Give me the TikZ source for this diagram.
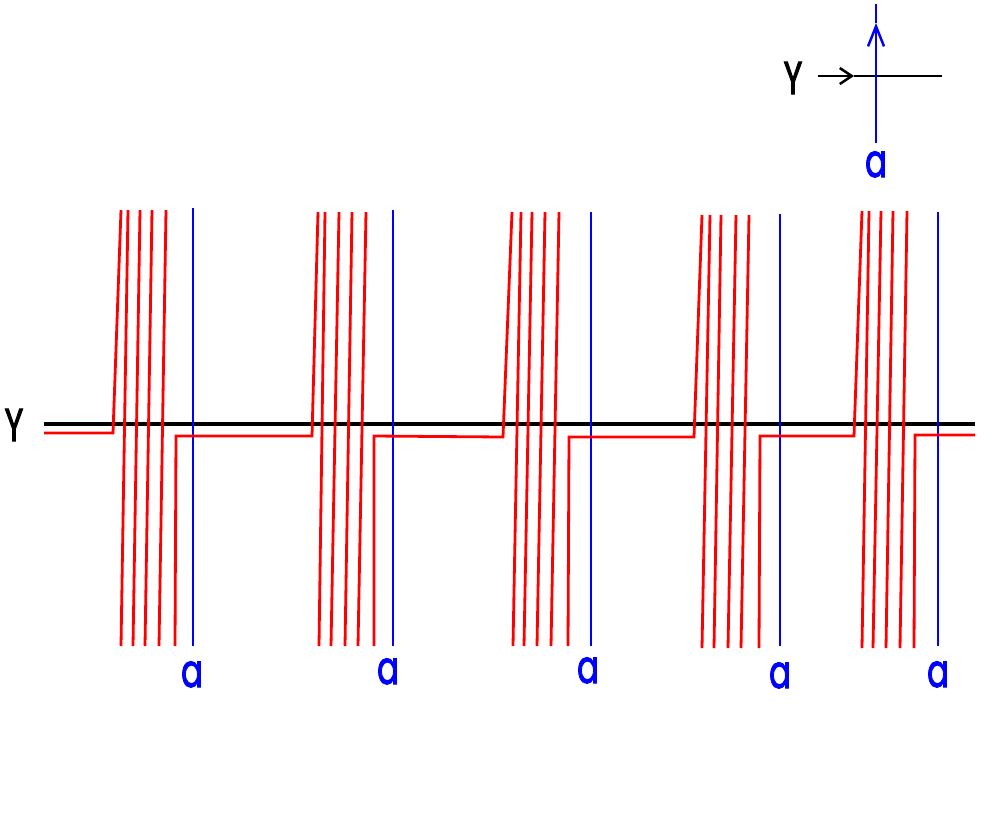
\documentclass[tikz,border=0pt]{standalone}
\usepackage{fontspec}
\usepackage{graphicx}
\setmainfont{Poppins}
\newfontfamily\labfont[FakeBold=2.5]{Poppins}
\usetikzlibrary{arrows.meta}
\tikzset{
  blk/.style={black,line width=3.2pt},
  redl/.style={red,line width=2.8pt,line join=miter},
  bluel/.style={blue,line width=2.8pt},
  lab/.style={inner sep=0pt,anchor=base,font=\labfont\fontsize{46}{46}\selectfont},
}
\newcommand{\nar}[1]{\scalebox{0.7}[1]{#1}}
\begin{document}
\begin{tikzpicture}[x=1pt,y=-1pt]
\useasboundingbox (0,0) rectangle (996,831);
% legend
\coordinate (lgL) at (818,76);
\coordinate (lgM) at (854,76);
\coordinate (lgR) at (942,76);
\coordinate (lbB) at (876,143);
\coordinate (lbM) at (876,23);
\coordinate (lbT) at (876,4);
\draw[blk,line width=2.8pt,-{Straight Barb[length=12pt,width=16pt,line width=2.5pt]}] (lgL) -- (lgM);
\draw[blk,line width=2.8pt] (lgM) -- (lgR);
\draw[bluel,-{Straight Barb[length=20pt,width=16pt,line width=2.5pt]}] (lbB) -- (lbM);
\draw[bluel] (lbM) -- (lbT);
\node[lab,black] (lY) at (793,94) {\nar{Y}};
\node[lab,blue] (la) at (876,177) {\nar{a}};
% main horizontal
\coordinate (hL) at (44,424);
\coordinate (hR) at (975,424);
\draw[blk] (hL) -- (hR);
\node[lab,black] (mY) at (14,441) {\nar{Y}};
% blue lines
\foreach \x/\t/\n in {193/208/1, 393/210/2, 591/212/3, 780/214/4, 938/212/5}{
  \coordinate (bt\n) at (\x,\t);
  \coordinate (bb\n) at (\x,646);
  \draw[bluel] (bt\n) -- (bb\n);
}
\node[lab,blue] (a1) at (192,687) {\nar{a}};
\node[lab,blue] (a2) at (388,684) {\nar{a}};
\node[lab,blue] (a3) at (588,683) {\nar{a}};
\node[lab,blue] (a4) at (780,688) {\nar{a}};
\node[lab,blue] (a5) at (938,687) {\nar{a}};
% red staircase path
\draw[redl] (44,433) -- (113,433) -- (121,210);
\draw[redl] (175,646) -- (176,436) -- (312,436) -- (318,212);
\draw[redl] (374,646) -- (374,436) -- (503,437) -- (512,212);
\draw[redl] (568,646) -- (569,437) -- (694,437) -- (702,215);
\draw[redl] (759,648) -- (760,436) -- (854,436) -- (862,211);
\draw[redl] (914,648) -- (915,435) -- (975,435);
% slanted red lines
\foreach \tx/\ty/\bx/\by in {
  128/210/121/646, 140/210/133/646, 152/210/145/646, 166/210/159/646,
  325/212/319/646, 339/212/331/646, 352/212/345/646, 366/212/358/646,
  521/212/513/646, 532/212/524/646, 545/212/537/646, 559/212/551/646,
  710/215/702/648, 721/215/714/648, 736/215/728/648, 749/215/741/648,
  869/211/862/648, 881/211/873/648, 893/211/886/648, 907/211/900/648}{
  \draw[redl] (\tx,\ty) -- (\bx,\by);
}
\end{tikzpicture}
\end{document}
